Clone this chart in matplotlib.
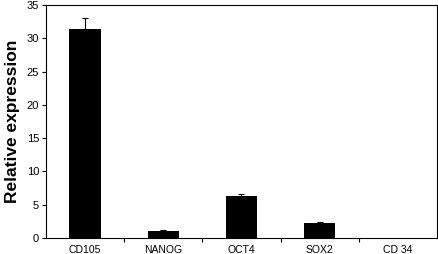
import matplotlib
matplotlib.use("Agg")
import matplotlib.pyplot as plt
import numpy as np

categories = ["CD105", "NANOG", "OCT4", "SOX2", "CD 34"]
values = [31.4, 1.0, 6.3, 2.2, 0.0]
errors = [1.6, 0.2, 0.3, 0.15, 0.0]
yticks = [0, 5, 10, 15, 20, 25, 30, 35]

plt.rcParams['font.family'] = ['Liberation Sans', 'DejaVu Sans']

fig = plt.figure(figsize=(4.38, 2.54), dpi=100)
ax = fig.add_axes([46/438, 1-238/254, 391/438, 233/254])

x = np.arange(len(categories))
ax.bar(x, values, width=0.4, color='black', zorder=2)
idx = [i for i, e in enumerate(errors) if e > 0]
ax.errorbar(x[idx], [values[i] for i in idx],
            yerr=[[0]*len(idx), [errors[i] for i in idx]], fmt='none', ecolor='black',
            elinewidth=0.8, capsize=2.5, capthick=0.8, zorder=3)

ax.set_xlim(-0.5, len(categories)-0.5)
ax.set_ylim(0, 35)
ax.set_yticks(yticks)
ax.tick_params(axis='y', labelsize=8, length=3, width=0.8, direction='out', pad=2)
ax.set_xticks(x)
ax.set_xticklabels(categories)
ax.tick_params(axis='x', which='major', length=0, labelsize=7.5, pad=5)
ax.set_xticks(np.arange(0.5, len(categories)-0.5, 1), minor=True)
ax.tick_params(axis='x', which='minor', length=3, width=0.8, direction='out')
for s in ax.spines.values():
    s.set_linewidth(0.8)
ax.set_ylabel("Relative expression", fontsize=12.5, fontweight='bold', labelpad=5)

fig.savefig("out.png", dpi=100)
